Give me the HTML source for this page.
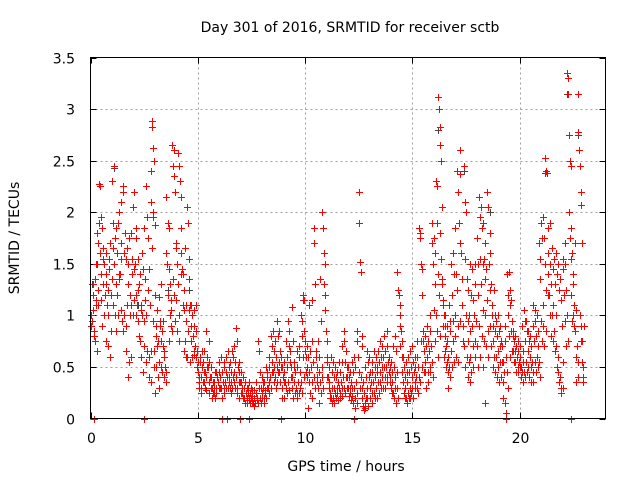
<!DOCTYPE html>
<html><head><meta charset="utf-8"><style>
body{margin:0;background:#fff;}
svg{display:block;font-family:"DejaVu Sans","Liberation Sans",sans-serif;}
</style></head><body>
<svg id="chart" width="640" height="480" viewBox="0 0 640 480" xmlns="http://www.w3.org/2000/svg">
<rect width="640" height="480" fill="#fff"/>
<text x="350" y="32" font-size="14" text-anchor="middle" fill="#000">Day 301 of 2016, SRMTID for receiver sctb</text>
<text x="346" y="471" font-size="14" text-anchor="middle" fill="#000">GPS time / hours</text>
<text x="0" y="0" font-size="14" text-anchor="middle" fill="#000" transform="translate(19,238) rotate(-90)">SRMTID / TECUs</text>
<g id="grid"></g><g id="ticks"></g><g id="marks"></g>
<rect x="90.5" y="57.5" width="515" height="361" fill="none" stroke="#000" stroke-width="1"/>
</svg>
<script>
const xTicks=[0,5,10,15,20];
const yTicks=[0,0.5,1,1.5,2,2.5,3,3.5];
const yTickLabels=["0","0.5","1","1.5","2","2.5","3","3.5"];
const binTimes=[0.0,0.1,0.2,0.3,0.4,0.5,0.6,0.7,0.8,0.9,1.0,1.1,1.2,1.3,1.4,1.5,1.6,1.7,1.8,1.9,2.0,2.1,2.2,2.3,2.4,2.5,2.6,2.7,2.8,2.85,2.9,3.0,3.1,3.2,3.3,3.4,3.5,3.6,3.7,3.8,3.9,4.0,4.1,4.2,4.3,4.4,4.5,4.6,4.7,4.8,4.9,5.0,5.1,5.2,5.3,5.4,5.5,5.6,5.7,5.8,5.9,6.0,6.1,6.2,6.3,6.4,6.5,6.6,6.7,6.8,6.9,7.0,7.1,7.2,7.3,7.4,7.5,7.6,7.7,7.8,7.9,8.0,8.1,8.2,8.3,8.4,8.5,8.6,8.7,8.8,8.9,9.0,9.1,9.2,9.3,9.4,9.5,9.6,9.7,9.8,9.9,10.0,10.1,10.2,10.3,10.4,10.5,10.6,10.7,10.8,10.9,11.0,11.1,11.2,11.3,11.4,11.5,11.6,11.7,11.8,11.9,12.0,12.1,12.2,12.3,12.4,12.5,12.6,12.7,12.8,12.9,13.0,13.1,13.2,13.3,13.4,13.5,13.6,13.7,13.8,13.9,14.0,14.1,14.2,14.3,14.4,14.5,14.6,14.7,14.8,14.9,15.0,15.1,15.2,15.3,15.4,15.5,15.6,15.7,15.8,15.9,16.0,16.1,16.2,16.3,16.4,16.5,16.6,16.7,16.8,16.9,17.0,17.1,17.2,17.3,17.4,17.5,17.6,17.7,17.8,17.9,18.0,18.1,18.2,18.3,18.4,18.5,18.6,18.7,18.8,18.9,19.0,19.1,19.2,19.3,19.4,19.5,19.6,19.7,19.8,19.9,20.0,20.1,20.2,20.3,20.4,20.5,20.6,20.7,20.8,20.9,21.0,21.1,21.2,21.3,21.4,21.5,21.6,21.7,21.8,21.9,22.0,22.1,22.2,22.3,22.4,22.5,22.6,22.7,22.8,22.9];
const binValues=[
[0.9,1.0,0.95,1.05,0.85,0],[1.2,1.3,0.8,0.75,1.1],[1.35,1.15,1.5,0.65,1.7],[1.8,1.25,1.1,1.9,2.25],[2.27,1.6,1.4,1.15,0.9],[1.95,1.85,1.3,1.55,1.0],[1.65,1.5,1.2,0.75,1.4],[1.6,1.3,1.1,0.7,1.45],[1.25,1.0,1.55,0.6,1.2],[1.7,1.2,0.85,1.35,1.1],
[2.3,1.9,1.65,1.5,1.0],[2.45,1.75,1.3,0.85,1.2],[1.85,1.6,1.0,1.4,1.35],[1.9,2.0,1.4,1.05,1.7],[2.1,1.55,0.95,0.85,1.0],[2.25,2.2,1.6,1.8,0.9],[1.8,1.55,0.65,1.1,1.3],[1.65,1.5,0.4,0.55,1.0],[1.75,1.2,1.1,0.6,1.4],[1.8,1.55,1.0,1.15,1.45],
[2.05,2.2,1.5,1.0,1.2],[1.75,1.85,1.1,0.95,1.3],[1.55,1.25,0.8,0.75,1.1],[1.4,1.05,0.6,1.0,0.45,0],[1.6,1.45,0.95,0.7,1.15],[1.85,1.35,1.0,0.55,0.65],[2.25,1.95,1.25,0.6,0.4],[1.75,1.45,1.1,0.65,0.35],[2.4,2.1,1.65,0.95,0.5],[2.88,2.83,2.62,2.5,1.88],[2.0,1.95,0.65,0.25,0.8],
[1.2,0.9,0.5,0.7,0.4],[1.05,0.75,0.55,0.3,0.95],[1.18,0.9,0.75,0.5,0.45],[1.3,0.85,0.7,0.6,0.4],[0.95,0.65,0.5,0.45,0.35],[2.15,1.6,1.5,1.2,0.75],[1.9,1.45,1.85,1.0,0.9],[1.3,1.05,1.15,0.85,1.35],[2.65,2.45,2.35,1.2,0.95],[2.6,2.2,1.7,1.15,0.85],
[1.65,1.5,1.3,1.0,0.75],[2.57,2.45,2.3,1.6,1.4],[2.15,1.85,1.45,1.1,0.65],[1.4,1.25,1.05,0.75,0.6],[1.65,1.1,0.95,0.6,0.85],[2.05,1.9,1.55,1.05,0.55],[1.35,1.1,0.9,0.75,0.6],[1.1,1.0,0.8,0.65,0.62],[1.05,0.9,0.7,0.6,0.5],[1.1,0.85,0.65,0.55,0.4],
[0.45,0.35,0.3,0.55,0.25],[0.6,0.4,0.3,0.5,0.35],[0.65,0.55,0.45,0.35,0.3],[0.65,0.45,0.4,0.28,0.5],[0.85,0.6,0.5,0.35,0.25],[0.75,0.55,0.4,0.3,0.2],[0.5,0.4,0.3,0.25,0.35],[0.35,0.3,0.25,0.2,0.45],[0.45,0.3,0.25,0.4,0.35],[0.4,0.35,0.3,0.45,0.3],
[0.55,0.4,0.3,0.2,0],[0.6,0.45,0.35,0.3,0.25],[0.55,0.5,0.35,0.3,0],[0.6,0.45,0.4,0.3,0.35],[0.65,0.5,0.4,0.3,0.25],[0.55,0.45,0.35,0.3,0.4],[0.65,0.6,0.45,0.35,0.3],[0.7,0.55,0.4,0.3,0.25],[0.88,0.75,0.5,0.35,0.2,0],[0.55,0.45,0.35,0.25,0.3],
[0.45,0.35,0.25,0.2,0.3],[0.4,0.3,0.2,0.15,0.25],[0.35,0.25,0.2,0.15,0.3,0],[0.3,0.25,0.18,0.2,0.15],[0.35,0.25,0.2,0.15,0.28],[0.3,0.22,0.15,0.2,0.12],[0.28,0.2,0.15,0.25,0.18],[0.35,0.25,0.2,0.15,0.3],[0.75,0.65,0.3,0.2,0.15],[0.45,0.3,0.2,0.25,0.35],
[0.4,0.3,0.2,0.15,0.25],[0.35,0.28,0.2,0.3,0.45],[0.5,0.4,0.3,0.25,0.35],[0.6,0.5,0.4,0.3,0.45],[0.8,0.7,0.55,0.45,0.35],[0.85,0.65,0.5,0.4,0.3],[0.75,0.6,0.5,0.35,0.45],[0.95,0.8,0.55,0.45,0.35,0],[0.85,0.65,0.5,0.3,0.2],[0.6,0.5,0.4,0.35,0.2],
[0.55,0.45,0.35,0.3,0.25],[0.75,0.6,0.5,0.35,0.28],[0.95,0.85,0.7,0.55,0.4],[0.65,0.5,0.4,0.3,0.2],[1.08,0.75,0.5,0.35,0.25],[0.55,0.45,0.3,0.25,0.2],[0.65,0.5,0.35,0.25,0.3],[0.7,0.6,0.45,0.35,0.25],[1.0,0.95,0.8,0.6,0.4],[1.2,1.15,0.85,0.65,0.45],
[0.75,0.6,0.5,0.4,0.1],[0.7,0.6,0.45,0.35,0.25],[1.1,0.65,0.5,0.35,0.2],[1.15,0.75,0.55,0.4,0.3],[1.85,1.7,1.3,0.6,0.35],[0.65,0.5,0.4,0.3,0.15],[0.75,0.6,0.45,0.35,0.25],[1.35,0.95,0.5,0.4,0.3],[2.0,1.85,1.6,1.5,1.05],[1.3,1.2,0.85,0.6,0.4],
[0.75,0.55,0.4,0.3,0.2],[0.5,0.35,0.25,0.2,0.15],[0.6,0.45,0.3,0.2,0.15],[0.55,0.4,0.3,0.25,0.2],[0.5,0.4,0.3,0.25,0.18],[0.45,0.35,0.3,0.25,0.2],[0.55,0.45,0.35,0.3,0.22],[0.7,0.55,0.4,0.3,0.25],[0.85,0.75,0.55,0.4,0.3],[0.65,0.5,0.4,0.3,0.22],
[0.5,0.4,0.3,0.25,0.18],[0.45,0.35,0.3,0.22,0.15,0],[0.55,0.45,0.3,0.2,0.1],[0.6,0.5,0.35,0.25,0.15],[0.85,0.75,0.6,0.45,0.3],[2.2,1.9,1.52,1.42,0.8,0.7],[0.4,0.3,0.2,0.12,0.08],[0.35,0.25,0.15,0.1,0.2],[0.5,0.4,0.3,0.2,0.12],[0.65,0.55,0.4,0.3,0.2],
[0.6,0.45,0.35,0.25,0.15],[0.55,0.45,0.35,0.25,0.2],[0.65,0.5,0.4,0.3,0.2],[0.6,0.5,0.45,0.35,0.25],[0.65,0.55,0.45,0.35,0.3],[0.75,0.6,0.5,0.4,0.3],[0.7,0.6,0.5,0.4,0.3],[0.8,0.65,0.5,0.4,0.35],[0.85,0.7,0.55,0.45,0.35],[0.6,0.5,0.4,0.3,0.25],
[0.55,0.45,0.35,0.25,0.2],[0.7,0.5,0.4,0.3,0.15],[0.8,0.65,0.45,0.3,0.2],[1.42,1.25,1.2,0.9,0.7],[1.1,1.0,0.85,0.75,0.6],[0.6,0.45,0.35,0.25,0.2],[0.5,0.4,0.3,0.2,0.15],[0.55,0.45,0.35,0.25,0.2],[0.6,0.45,0.3,0.2,0.25],[0.65,0.5,0.4,0.3,0.2],
[0.7,0.55,0.45,0.35,0.3],[0.6,0.5,0.4,0.3,0.25],[0.75,0.6,0.5,0.4,0.35],[1.85,1.75,1.8,0.75,0.5],[1.5,1.45,1.2,0.85,0.45],[0.75,0.65,0.55,0.45,0.3],[0.8,0.7,0.6,0.45,0.35],[0.9,0.75,0.65,0.5,0.45],[1.0,0.85,0.7,0.55,0.4],[1.9,1.7,1.5,1.05,0.75],
[1.75,1.6,1.3,1.0,0.85,0.6],[2.3,2.25,1.9,1.4,1.2,0.8],[3.12,3.0,2.83,2.65,2.5,2.05],[1.8,1.55,1.35,1.1,0.9,0.6],[1.3,1.15,1.0,0.8,0.65,0.5],[1.0,0.9,0.7,0.55,0.45,0.3],[0.9,0.75,0.6,0.5,0.4],[1.1,0.95,0.85,0.65,0.5],[1.5,1.2,0.95,0.75,0.55],[1.6,1.4,1.0,0.8,0.6],
[1.85,1.4,1.25,0.9,0.55],[2.4,2.2,1.9,1.7,0.95],[2.6,2.37,1.6,1.1,0.75],[1.35,1.1,0.9,0.7,0.5],[2.45,2.1,1.55,1.0,0.6,0.4],[2.0,1.35,0.95,0.75,0.55,0.35],[1.25,1.0,0.85,0.6,0.45],[1.5,1.2,0.9,0.7,0.5],[1.45,1.15,1.0,0.75,0.6],[1.5,1.3,0.95,0.7,0.5],
[1.75,1.5,1.2,0.9,0.6],[2.15,1.95,1.55,1.3,0.8,0.5],[2.05,1.85,1.5,1.05,0.75,0.15],[1.9,1.55,1.35,1.0,0.7],[1.7,1.45,1.15,0.85,0.6],[2.2,2.05,1.5,1.25,0.9,0.7],[1.8,1.6,1.3,1.0,0.75,0.5],[1.1,0.9,0.75,0.6,0.45],[1.25,1.0,0.85,0.6,0.4],[0.95,0.8,0.65,0.5,0.35],
[1.0,0.85,0.7,0.55,0.4],[0.9,0.75,0.55,0.35,0.2],[0.7,0.55,0.45,0.15,0.05,0],[0.9,0.75,0.6,0.45,0.3],[1.4,1.2,1.0,0.8,0.6],[1.42,1.25,1.1,0.85,0.65],[1.15,0.95,0.8,0.65,0.55],[0.85,0.75,0.65,0.55,0.45],[0.8,0.7,0.6,0.5,0.45],[0.75,0.65,0.55,0.5,0.4],
[0.7,0.6,0.5,0.45,0.35],[0.9,0.65,0.55,0.45,0.4],[1.05,0.95,0.75,0.55,0.45],[0.95,0.85,0.65,0.5,0.4],[0.85,0.75,0.6,0.5,0.35],[0.8,0.7,0.55,0.45,0.35],[1.1,0.9,0.75,0.55,0.45],[1.05,0.95,0.8,0.6,0.5],[1.0,0.85,0.7,0.55,0.4],[1.7,1.55,1.35,0.95,0.75],
[1.9,1.75,1.1,0.9,0.7],[1.95,1.75,1.5,1.25,0.85],[2.53,2.4,2.38,1.6,1.2],[1.85,1.4,1.2,1.0,0.8],[1.9,1.5,1.3,1.0,0.75],[1.65,1.45,1.1,0.85,0.65],[1.55,1.3,1.0,0.7,0.5],[1.6,1.4,0.6,0.45,0.35],[1.5,1.25,0.4,0.3,0.25],[1.35,1.15,0.9,0.55,0.3],
[1.55,1.45,1.2,0.95,0.7],[1.7,1.5,1.25,1.0,0.75],[3.35,3.3,3.15,2.75,2.5,2.45,0],[2.0,1.75,1.55,1.2,0.95],[1.85,1.6,1.3,1.0,0.9],[1.4,1.1,0.85,0.6,0.35],[1.7,1.05,0.7,0.55,0.4],[3.15,2.78,2.6,2.45,2.2,2.07,1.7],[1.0,0.9,0.75,0.55,0.4],[0.75,0.5,0.35,0.9]
];
const darkTimes=[0.05,0.3,1.1,2.2,3.6,4.6,9.9,12.5,16.2,17.4,18.6,21.2,22.2,22.7];
const darkValues=[1.3,1.5,2.43,1.1,1.25,1.25,1.15,1.9,2.8,2.4,2.0,2.38,3.15,2.75];

const X0=90.5,X1=605.5,Y0=418.5,Y1=57.5,XMAX=24,YMAX=3.5;
const xs=v=>X0+(v/XMAX)*(X1-X0);
const ys=v=>Y0-(v/YMAX)*(Y0-Y1);
const NS="http://www.w3.org/2000/svg";
const grid=document.getElementById('grid'),ticks=document.getElementById('ticks'),marks=document.getElementById('marks');
function line(p,x1,y1,x2,y2,st,dash){const l=document.createElementNS(NS,'line');l.setAttribute('x1',x1);l.setAttribute('y1',y1);l.setAttribute('x2',x2);l.setAttribute('y2',y2);l.setAttribute('stroke',st);if(dash)l.setAttribute('stroke-dasharray',dash);p.appendChild(l);return l;}
xTicks.forEach((t,i)=>{const x=Math.round(xs(t))+0.5;
 if(t>0){const g=line(grid,x,Y1,x,Y0,'#a0a0a0','2,3');
 
 }
 line(ticks,x,Y0,x,Y0-6,'#000');line(ticks,x,Y1,x,Y1+6,'#000');
 const tx=document.createElementNS(NS,'text');tx.setAttribute('x',x);tx.setAttribute('y',443);tx.setAttribute('font-size','14');tx.setAttribute('text-anchor','middle');tx.textContent=String(t);
 
 
 ticks.appendChild(tx);});
yTicks.forEach((t,i)=>{const y=Math.round(ys(t))+0.5;
 if(t>0&&t<3.5){const g=line(grid,X0,y,X1,y,'#a0a0a0','2,3');
 
 }
 line(ticks,X0,y,X0+6,y,'#000');line(ticks,X1,y,X1-6,y,'#000');
 const tx=document.createElementNS(NS,'text');tx.setAttribute('x',75);tx.setAttribute('y',y+5);tx.setAttribute('font-size','14');tx.setAttribute('text-anchor','end');tx.textContent=yTickLabels[i];
 
 
 ticks.appendChild(tx);});
function cross(t,v,col){const x=Math.round(xs(t))+0.5,y=Math.round(ys(v))+0.5;
 const p=document.createElementNS(NS,'path');p.setAttribute('d',`M${x-3.5} ${y}H${x+3.5}M${x} ${y-3.5}V${y+3.5}`);p.setAttribute('stroke',col);p.setAttribute('stroke-width','1');
 
 
 marks.appendChild(p);}
darkTimes.forEach((t,i)=>cross(t,darkValues[i],'#444'));
binTimes.forEach((t,i)=>{const vals=binValues[i];vals.forEach((v,j)=>cross(t+j*0.035,v,'#ff0000'));});
</script>
</body></html>
